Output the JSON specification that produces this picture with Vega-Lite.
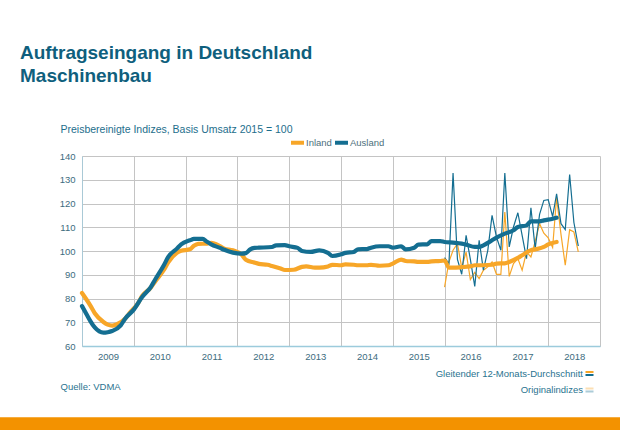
{
  "$schema": "https://vega.github.io/schema/vega-lite/v6.json",
  "width": 518,
  "height": 190,
  "autosize": "none",
  "padding": {"left": 82, "top": 156, "right": 20, "bottom": 84},
  "background": "white",
  "config": {
    "font": "Liberation Sans",
    "view": {"stroke": null}
  },
  "title": {
    "text": ["Auftragseingang in Deutschland", "Maschinenbau"],
    "anchor": "start",
    "frame": "group",
    "dx": -62,
    "fontSize": 19,
    "fontWeight": "bold",
    "color": "#0f5f7d",
    "lineHeight": 23,
    "offset": 38
  },
  "datasets": {
    "avg": [
      {"d": "2009-01-01", "s": "Inland", "v": 82.3},
      {"d": "2009-03-01", "s": "Inland", "v": 77.0},
      {"d": "2009-04-01", "s": "Inland", "v": 73.8},
      {"d": "2009-06-01", "s": "Inland", "v": 70.1},
      {"d": "2009-07-01", "s": "Inland", "v": 69.0},
      {"d": "2009-08-01", "s": "Inland", "v": 68.6},
      {"d": "2009-09-01", "s": "Inland", "v": 69.1},
      {"d": "2009-11-01", "s": "Inland", "v": 71.5},
      {"d": "2009-12-01", "s": "Inland", "v": 73.8},
      {"d": "2010-02-01", "s": "Inland", "v": 78.1},
      {"d": "2010-03-01", "s": "Inland", "v": 81.1},
      {"d": "2010-05-01", "s": "Inland", "v": 84.6},
      {"d": "2010-06-01", "s": "Inland", "v": 87.2},
      {"d": "2010-08-01", "s": "Inland", "v": 92.0},
      {"d": "2010-09-01", "s": "Inland", "v": 95.2},
      {"d": "2010-11-01", "s": "Inland", "v": 99.2},
      {"d": "2010-12-01", "s": "Inland", "v": 100.1},
      {"d": "2011-02-01", "s": "Inland", "v": 100.7},
      {"d": "2011-03-01", "s": "Inland", "v": 102.2},
      {"d": "2011-04-01", "s": "Inland", "v": 103.0},
      {"d": "2011-06-01", "s": "Inland", "v": 103.1},
      {"d": "2011-07-01", "s": "Inland", "v": 103.4},
      {"d": "2011-09-01", "s": "Inland", "v": 102.0},
      {"d": "2011-10-01", "s": "Inland", "v": 101.0},
      {"d": "2011-12-01", "s": "Inland", "v": 100.3},
      {"d": "2012-02-01", "s": "Inland", "v": 98.4},
      {"d": "2012-03-01", "s": "Inland", "v": 96.3},
      {"d": "2012-05-01", "s": "Inland", "v": 95.1},
      {"d": "2012-06-01", "s": "Inland", "v": 94.6},
      {"d": "2012-08-01", "s": "Inland", "v": 94.2},
      {"d": "2012-09-01", "s": "Inland", "v": 93.7},
      {"d": "2012-11-01", "s": "Inland", "v": 92.6},
      {"d": "2012-12-01", "s": "Inland", "v": 92.0},
      {"d": "2013-02-01", "s": "Inland", "v": 92.1},
      {"d": "2013-04-01", "s": "Inland", "v": 93.3},
      {"d": "2013-05-01", "s": "Inland", "v": 93.5},
      {"d": "2013-07-01", "s": "Inland", "v": 93.0},
      {"d": "2013-08-01", "s": "Inland", "v": 93.0},
      {"d": "2013-10-01", "s": "Inland", "v": 93.5},
      {"d": "2013-11-01", "s": "Inland", "v": 94.2},
      {"d": "2014-01-01", "s": "Inland", "v": 94.0},
      {"d": "2014-02-01", "s": "Inland", "v": 94.4},
      {"d": "2014-04-01", "s": "Inland", "v": 94.2},
      {"d": "2014-05-01", "s": "Inland", "v": 94.0},
      {"d": "2014-07-01", "s": "Inland", "v": 94.0},
      {"d": "2014-08-01", "s": "Inland", "v": 94.2},
      {"d": "2014-10-01", "s": "Inland", "v": 93.8},
      {"d": "2014-12-01", "s": "Inland", "v": 94.0},
      {"d": "2015-01-01", "s": "Inland", "v": 94.7},
      {"d": "2015-03-01", "s": "Inland", "v": 96.4},
      {"d": "2015-04-01", "s": "Inland", "v": 95.8},
      {"d": "2015-06-01", "s": "Inland", "v": 95.6},
      {"d": "2015-07-01", "s": "Inland", "v": 95.4},
      {"d": "2015-09-01", "s": "Inland", "v": 95.4},
      {"d": "2015-10-01", "s": "Inland", "v": 95.6},
      {"d": "2015-12-01", "s": "Inland", "v": 95.8},
      {"d": "2016-01-01", "s": "Inland", "v": 96.0},
      {"d": "2016-02-01", "s": "Inland", "v": 93.0},
      {"d": "2016-03-01", "s": "Inland", "v": 93.0},
      {"d": "2016-05-01", "s": "Inland", "v": 93.2},
      {"d": "2016-07-01", "s": "Inland", "v": 93.5},
      {"d": "2016-08-01", "s": "Inland", "v": 94.0},
      {"d": "2016-10-01", "s": "Inland", "v": 94.0},
      {"d": "2016-12-01", "s": "Inland", "v": 94.2},
      {"d": "2017-01-01", "s": "Inland", "v": 94.7},
      {"d": "2017-03-01", "s": "Inland", "v": 94.8},
      {"d": "2017-04-01", "s": "Inland", "v": 95.4},
      {"d": "2017-06-01", "s": "Inland", "v": 97.1},
      {"d": "2017-07-01", "s": "Inland", "v": 98.2},
      {"d": "2017-09-01", "s": "Inland", "v": 100.3},
      {"d": "2017-10-01", "s": "Inland", "v": 100.7},
      {"d": "2017-12-01", "s": "Inland", "v": 101.7},
      {"d": "2018-01-01", "s": "Inland", "v": 102.8},
      {"d": "2018-03-01", "s": "Inland", "v": 103.8},
      {"d": "2009-01-01", "s": "Ausland", "v": 76.8},
      {"d": "2009-02-01", "s": "Ausland", "v": 73.5},
      {"d": "2009-03-01", "s": "Ausland", "v": 70.5},
      {"d": "2009-04-01", "s": "Ausland", "v": 67.8},
      {"d": "2009-06-01", "s": "Ausland", "v": 65.6},
      {"d": "2009-07-01", "s": "Ausland", "v": 65.8},
      {"d": "2009-08-01", "s": "Ausland", "v": 66.3},
      {"d": "2009-10-01", "s": "Ausland", "v": 68.7},
      {"d": "2009-11-01", "s": "Ausland", "v": 71.5},
      {"d": "2010-01-01", "s": "Ausland", "v": 75.3},
      {"d": "2010-03-01", "s": "Ausland", "v": 80.6},
      {"d": "2010-05-01", "s": "Ausland", "v": 84.8},
      {"d": "2010-06-01", "s": "Ausland", "v": 88.0},
      {"d": "2010-08-01", "s": "Ausland", "v": 94.0},
      {"d": "2010-09-01", "s": "Ausland", "v": 97.5},
      {"d": "2010-11-01", "s": "Ausland", "v": 101.0},
      {"d": "2010-12-01", "s": "Ausland", "v": 102.8},
      {"d": "2011-02-01", "s": "Ausland", "v": 104.5},
      {"d": "2011-03-01", "s": "Ausland", "v": 105.1},
      {"d": "2011-05-01", "s": "Ausland", "v": 105.1},
      {"d": "2011-06-01", "s": "Ausland", "v": 103.9},
      {"d": "2011-07-01", "s": "Ausland", "v": 102.8},
      {"d": "2011-09-01", "s": "Ausland", "v": 101.3},
      {"d": "2011-10-01", "s": "Ausland", "v": 100.5},
      {"d": "2011-12-01", "s": "Ausland", "v": 99.3},
      {"d": "2012-02-01", "s": "Ausland", "v": 98.9},
      {"d": "2012-03-01", "s": "Ausland", "v": 99.1},
      {"d": "2012-04-01", "s": "Ausland", "v": 100.7},
      {"d": "2012-05-01", "s": "Ausland", "v": 101.3},
      {"d": "2012-06-01", "s": "Ausland", "v": 101.4},
      {"d": "2012-09-01", "s": "Ausland", "v": 101.7},
      {"d": "2012-10-01", "s": "Ausland", "v": 102.4},
      {"d": "2012-12-01", "s": "Ausland", "v": 102.5},
      {"d": "2013-01-01", "s": "Ausland", "v": 102.0},
      {"d": "2013-03-01", "s": "Ausland", "v": 101.3},
      {"d": "2013-04-01", "s": "Ausland", "v": 100.0},
      {"d": "2013-06-01", "s": "Ausland", "v": 99.6},
      {"d": "2013-08-01", "s": "Ausland", "v": 100.3},
      {"d": "2013-10-01", "s": "Ausland", "v": 99.2},
      {"d": "2013-11-01", "s": "Ausland", "v": 97.9},
      {"d": "2014-01-01", "s": "Ausland", "v": 98.6},
      {"d": "2014-02-01", "s": "Ausland", "v": 99.2},
      {"d": "2014-04-01", "s": "Ausland", "v": 99.6},
      {"d": "2014-05-01", "s": "Ausland", "v": 100.7},
      {"d": "2014-07-01", "s": "Ausland", "v": 100.8},
      {"d": "2014-08-01", "s": "Ausland", "v": 101.4},
      {"d": "2014-10-01", "s": "Ausland", "v": 102.0},
      {"d": "2014-12-01", "s": "Ausland", "v": 102.0},
      {"d": "2015-01-01", "s": "Ausland", "v": 101.4},
      {"d": "2015-03-01", "s": "Ausland", "v": 102.0},
      {"d": "2015-04-01", "s": "Ausland", "v": 100.7},
      {"d": "2015-06-01", "s": "Ausland", "v": 101.4},
      {"d": "2015-07-01", "s": "Ausland", "v": 102.7},
      {"d": "2015-09-01", "s": "Ausland", "v": 102.8},
      {"d": "2015-10-01", "s": "Ausland", "v": 104.2},
      {"d": "2015-12-01", "s": "Ausland", "v": 104.2},
      {"d": "2016-01-01", "s": "Ausland", "v": 103.8},
      {"d": "2016-03-01", "s": "Ausland", "v": 103.5},
      {"d": "2016-05-01", "s": "Ausland", "v": 103.1},
      {"d": "2016-06-01", "s": "Ausland", "v": 102.7},
      {"d": "2016-08-01", "s": "Ausland", "v": 101.7},
      {"d": "2016-09-01", "s": "Ausland", "v": 101.7},
      {"d": "2016-10-01", "s": "Ausland", "v": 102.4},
      {"d": "2016-12-01", "s": "Ausland", "v": 104.5},
      {"d": "2017-01-01", "s": "Ausland", "v": 105.6},
      {"d": "2017-03-01", "s": "Ausland", "v": 107.3},
      {"d": "2017-05-01", "s": "Ausland", "v": 108.7},
      {"d": "2017-06-01", "s": "Ausland", "v": 110.1},
      {"d": "2017-08-01", "s": "Ausland", "v": 110.8},
      {"d": "2017-09-01", "s": "Ausland", "v": 112.5},
      {"d": "2017-11-01", "s": "Ausland", "v": 112.5},
      {"d": "2017-12-01", "s": "Ausland", "v": 112.9},
      {"d": "2018-02-01", "s": "Ausland", "v": 113.6},
      {"d": "2018-03-01", "s": "Ausland", "v": 114.0}
    ],
    "orig": [
      {"d": "2016-01-01", "s": "Inland", "v": 84.8},
      {"d": "2016-02-01", "s": "Inland", "v": 95.4},
      {"d": "2016-03-01", "s": "Inland", "v": 100.3},
      {"d": "2016-04-01", "s": "Inland", "v": 103.1},
      {"d": "2016-05-01", "s": "Inland", "v": 93.0},
      {"d": "2016-06-01", "s": "Inland", "v": 99.5},
      {"d": "2016-07-01", "s": "Inland", "v": 88.0},
      {"d": "2016-08-01", "s": "Inland", "v": 91.0},
      {"d": "2016-09-01", "s": "Inland", "v": 88.4},
      {"d": "2016-10-01", "s": "Inland", "v": 91.9},
      {"d": "2016-11-01", "s": "Inland", "v": 93.3},
      {"d": "2016-12-01", "s": "Inland", "v": 95.4},
      {"d": "2017-01-01", "s": "Inland", "v": 90.2},
      {"d": "2017-02-01", "s": "Inland", "v": 90.2},
      {"d": "2017-03-01", "s": "Inland", "v": 116.4},
      {"d": "2017-04-01", "s": "Inland", "v": 89.3},
      {"d": "2017-05-01", "s": "Inland", "v": 94.7},
      {"d": "2017-06-01", "s": "Inland", "v": 96.8},
      {"d": "2017-07-01", "s": "Inland", "v": 91.9},
      {"d": "2017-08-01", "s": "Inland", "v": 99.6},
      {"d": "2017-09-01", "s": "Inland", "v": 97.5},
      {"d": "2017-10-01", "s": "Inland", "v": 104.0},
      {"d": "2017-11-01", "s": "Inland", "v": 111.5},
      {"d": "2017-12-01", "s": "Inland", "v": 107.5},
      {"d": "2018-01-01", "s": "Inland", "v": 105.5},
      {"d": "2018-02-01", "s": "Inland", "v": 101.5},
      {"d": "2018-03-01", "s": "Inland", "v": 122.5},
      {"d": "2018-04-01", "s": "Inland", "v": 107.0},
      {"d": "2018-05-01", "s": "Inland", "v": 94.0},
      {"d": "2018-06-01", "s": "Inland", "v": 109.0},
      {"d": "2018-07-01", "s": "Inland", "v": 108.0},
      {"d": "2018-08-01", "s": "Inland", "v": 99.6},
      {"d": "2016-01-01", "s": "Ausland", "v": 97.2},
      {"d": "2016-02-01", "s": "Ausland", "v": 94.7},
      {"d": "2016-03-01", "s": "Ausland", "v": 132.8},
      {"d": "2016-04-01", "s": "Ausland", "v": 96.5},
      {"d": "2016-05-01", "s": "Ausland", "v": 90.2},
      {"d": "2016-06-01", "s": "Ausland", "v": 106.6},
      {"d": "2016-07-01", "s": "Ausland", "v": 96.5},
      {"d": "2016-08-01", "s": "Ausland", "v": 85.1},
      {"d": "2016-09-01", "s": "Ausland", "v": 104.5},
      {"d": "2016-10-01", "s": "Ausland", "v": 91.9},
      {"d": "2016-11-01", "s": "Ausland", "v": 100.3},
      {"d": "2016-12-01", "s": "Ausland", "v": 115.0},
      {"d": "2017-01-01", "s": "Ausland", "v": 105.9},
      {"d": "2017-02-01", "s": "Ausland", "v": 100.3},
      {"d": "2017-03-01", "s": "Ausland", "v": 132.8},
      {"d": "2017-04-01", "s": "Ausland", "v": 101.7},
      {"d": "2017-05-01", "s": "Ausland", "v": 110.1},
      {"d": "2017-06-01", "s": "Ausland", "v": 116.1},
      {"d": "2017-07-01", "s": "Ausland", "v": 106.6},
      {"d": "2017-08-01", "s": "Ausland", "v": 96.8},
      {"d": "2017-09-01", "s": "Ausland", "v": 118.2},
      {"d": "2017-10-01", "s": "Ausland", "v": 101.0},
      {"d": "2017-11-01", "s": "Ausland", "v": 115.4},
      {"d": "2017-12-01", "s": "Ausland", "v": 121.3},
      {"d": "2018-01-01", "s": "Ausland", "v": 121.6},
      {"d": "2018-02-01", "s": "Ausland", "v": 114.5},
      {"d": "2018-03-01", "s": "Ausland", "v": 124.1},
      {"d": "2018-04-01", "s": "Ausland", "v": 111.5},
      {"d": "2018-05-01", "s": "Ausland", "v": 109.0},
      {"d": "2018-06-01", "s": "Ausland", "v": 132.2},
      {"d": "2018-07-01", "s": "Ausland", "v": 112.0},
      {"d": "2018-08-01", "s": "Ausland", "v": 102.1}
    ]
  },
  "layer": [
    {
      "data": {"values": [{}]},
      "mark": {"type": "rect", "color": "#f39200", "clip": false},
      "encoding": {
        "x": {
          "datum": {"year": 2007, "month": 6, "date": 1, "utc": true},
          "type": "temporal",
          "scale": {
            "type": "utc",
            "domain": [
              {"year": 2009, "month": 1, "date": 1, "utc": true},
              {"year": 2019, "month": 1, "date": 1, "utc": true}
            ]
          }
        },
        "x2": {"datum": {"year": 2019, "month": 6, "date": 1, "utc": true}},
        "y": {
          "datum": 30,
          "type": "quantitative",
          "scale": {"domain": [60, 140], "nice": false, "zero": false},
          "axis": {
            "values": [60, 70, 80, 90, 100, 110, 120, 130, 140],
            "grid": true,
            "gridColor": "#c4c4c4",
            "ticks": false,
            "domainColor": "#a9c9d6",
            "labelFontSize": 9.5,
            "labelColor": "#3d6c7e",
            "labelPadding": 7,
            "title": "Preisbereinigte Indizes, Basis Umsatz 2015 = 100",
            "titleAngle": 0,
            "titleAlign": "left",
            "titleBaseline": "alphabetic",
            "titleX": -22,
            "titleY": -24,
            "titleFontSize": 10.5,
            "titleFontWeight": "normal",
            "titleColor": "#1d6e8c"
          }
        },
        "y2": {"datum": 24}
      }
    },
    {
      "data": {"name": "orig"},
      "mark": {"type": "line", "interpolate": "linear"},
      "encoding": {
        "x": {
          "field": "d",
          "type": "temporal",
          "scale": {
            "type": "utc",
            "domain": [
              {"year": 2009, "month": 1, "date": 1, "utc": true},
              {"year": 2019, "month": 1, "date": 1, "utc": true}
            ]
          },
          "axis": {
            "values": [
              {"year": 2009, "month": 1, "date": 1, "utc": true},
              {"year": 2010, "month": 1, "date": 1, "utc": true},
              {"year": 2011, "month": 1, "date": 1, "utc": true},
              {"year": 2012, "month": 1, "date": 1, "utc": true},
              {"year": 2013, "month": 1, "date": 1, "utc": true},
              {"year": 2014, "month": 1, "date": 1, "utc": true},
              {"year": 2015, "month": 1, "date": 1, "utc": true},
              {"year": 2016, "month": 1, "date": 1, "utc": true},
              {"year": 2017, "month": 1, "date": 1, "utc": true},
              {"year": 2018, "month": 1, "date": 1, "utc": true},
              {"year": 2019, "month": 1, "date": 1, "utc": true}
            ],
            "labelExpr": "utcyear(datum.value) < 2019 ? '' + utcyear(datum.value) : ''",
            "labelOffset": 26,
            "labelPadding": 5,
            "labelFontSize": 9.5,
            "labelColor": "#3d6c7e",
            "labelOverlap": false,
            "labelFlush": false,
            "labelBound": false,
            "grid": true,
            "gridColor": "#c4c4c4",
            "ticks": false,
            "domainColor": "#9ccbdc",
            "domainWidth": 1.5,
            "title": "Quelle: VDMA",
            "titleX": -22,
            "titleY": 43,
            "titleAlign": "left",
            "titleBaseline": "alphabetic",
            "titleFontSize": 9.5,
            "titleFontWeight": "normal",
            "titleColor": "#2a7390"
          }
        },
        "y": {
          "field": "v",
          "type": "quantitative",
          "scale": {"domain": [60, 140], "nice": false, "zero": false},
          "axis": {
            "values": [60, 70, 80, 90, 100, 110, 120, 130, 140],
            "grid": true,
            "gridColor": "#c4c4c4",
            "ticks": false,
            "domainColor": "#a9c9d6",
            "labelFontSize": 9.5,
            "labelColor": "#3d6c7e",
            "labelPadding": 7,
            "title": "Preisbereinigte Indizes, Basis Umsatz 2015 = 100",
            "titleAngle": 0,
            "titleAlign": "left",
            "titleBaseline": "alphabetic",
            "titleX": -22,
            "titleY": -24,
            "titleFontSize": 10.5,
            "titleFontWeight": "normal",
            "titleColor": "#1d6e8c"
          }
        },
        "color": {
          "field": "s",
          "type": "nominal",
          "scale": {"domain": ["Inland", "Ausland"], "range": ["#f7a628", "#146e91"]},
          "legend": {
            "orient": "none",
            "legendX": 207,
            "legendY": -22,
            "direction": "horizontal",
            "title": null,
            "padding": 0,
            "symbolType": "stroke",
            "symbolStrokeWidth": 4,
            "symbolSize": 169,
            "labelFontSize": 9.5,
            "labelColor": "#4d6f7c",
            "labelOffset": 0,
            "columnPadding": -5
          }
        },
        "strokeWidth": {
          "datum": "Originalindizes",
          "type": "nominal",
          "scale": {"type": "point", "padding": 0, "domain": ["Gleitender 12-Monats-Durchschnitt", "Originalindizes"], "range": [4.2, 1.2]},
          "legend": {
            "orient": "none",
            "legendX": 501,
            "legendY": 211,
            "direction": "vertical",
            "title": null,
            "padding": 0,
            "labelAlign": "right",
            "labelOffset": -13,
            "labelFontSize": 9.5,
            "labelColor": "#2a7390",
            "rowPadding": -3,
            "symbolType": "M-1,-0.6H1V-0.1H-1Z M-1,0.1H1V0.6H-1Z",
            "symbolSize": 64,
            "encode": {
              "symbols": {
                "update": {
                  "fill": {"value": {"gradient": "linear", "x1": 0, "y1": 0, "x2": 0, "y2": 1, "stops": [{"offset": 0, "color": "#f7a628"}, {"offset": 0.5, "color": "#f7a628"}, {"offset": 0.5, "color": "#146e91"}, {"offset": 1, "color": "#146e91"}]}},
                  "stroke": {"value": "transparent"},
                  "strokeWidth": {"value": 0},
                  "opacity": {"signal": "datum.value === 'Originalindizes' ? 0.35 : 1"}
                }
              }
            }
          }
        }
      }
    },
    {
      "data": {"name": "avg"},
      "mark": {"type": "line", "interpolate": "monotone", "strokeCap": "round"},
      "encoding": {
        "x": {
          "field": "d",
          "type": "temporal",
          "scale": {
            "type": "utc",
            "domain": [
              {"year": 2009, "month": 1, "date": 1, "utc": true},
              {"year": 2019, "month": 1, "date": 1, "utc": true}
            ]
          }
        },
        "y": {
          "field": "v",
          "type": "quantitative",
          "scale": {"domain": [60, 140], "nice": false, "zero": false},
          "axis": {
            "values": [60, 70, 80, 90, 100, 110, 120, 130, 140],
            "grid": true,
            "gridColor": "#c4c4c4",
            "ticks": false,
            "domainColor": "#a9c9d6",
            "labelFontSize": 9.5,
            "labelColor": "#3d6c7e",
            "labelPadding": 7,
            "title": "Preisbereinigte Indizes, Basis Umsatz 2015 = 100",
            "titleAngle": 0,
            "titleAlign": "left",
            "titleBaseline": "alphabetic",
            "titleX": -22,
            "titleY": -24,
            "titleFontSize": 10.5,
            "titleFontWeight": "normal",
            "titleColor": "#1d6e8c"
          }
        },
        "color": {
          "field": "s",
          "type": "nominal",
          "scale": {"domain": ["Inland", "Ausland"], "range": ["#f7a628", "#146e91"]}
        },
        "strokeWidth": {
          "datum": "Gleitender 12-Monats-Durchschnitt",
          "type": "nominal",
          "scale": {"type": "point", "padding": 0, "domain": ["Gleitender 12-Monats-Durchschnitt", "Originalindizes"], "range": [4.2, 1.2]}
        }
      }
    }
  ]
}
